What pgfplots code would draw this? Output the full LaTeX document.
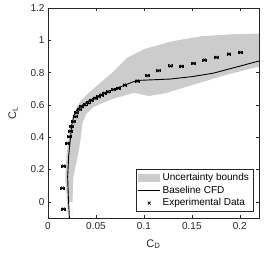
\documentclass[border=0pt]{standalone}
\usepackage{pgfplots}
\pgfplotsset{compat=1.18}
\usepackage{fontspec}
\setmainfont{Liberation Sans}
\definecolor{axgray}{RGB}{38,38,38}
\definecolor{bandgray}{RGB}{204,204,204}
\begin{document}
\begin{tikzpicture}
\begin{axis}[
  name=ax,
  scale only axis,
  width=211pt, height=210pt,
  xmin=0, xmax=0.22, ymin=-0.1, ymax=1.2,
  xtick={0,0.05,0.1,0.15,0.2},
  xticklabels={0,0.05,0.1,0.15,0.2},
  ytick={0,0.2,0.4,0.6,0.8,1,1.2},
  yticklabels={0,0.2,0.4,0.6,0.8,1,1.2},
  tick align=inside,
  tick pos=both,
  major tick length=3pt,
  axis line style={axgray, line width=0.5pt},
  tick style={axgray, line width=0.5pt},
  ticklabel style={font=\fontsize{10}{12}\selectfont, text=axgray},
  xticklabel style={yshift=-1pt},
  xlabel={C$_\mathrm{D}$}, ylabel={C$_\mathrm{L}$},
  label style={font=\fontsize{11}{13}\selectfont, text=axgray},
  xlabel style={yshift=-3pt},
  ylabel style={yshift=6pt},
  legend style={at={(rel axis cs:0.972,0.03)}, anchor=south east, draw=axgray, line width=0.5pt,
     font=\fontsize{10}{12}\selectfont, inner sep=2pt, row sep=0pt, cells={anchor=west}},
  legend cell align=left,
  clip=true,
]
% uncertainty band
\addplot[fill=bandgray, draw=none,
  legend image code/.code={\fill[bandgray] (0pt,-4pt) rectangle (22pt,4pt);}] coordinates {
 (0.0212,-0.12) (0.0195,0.03) (0.0180,0.155) (0.0195,0.30) (0.0229,0.444)
 (0.026,0.52) (0.030,0.59) (0.035,0.63) (0.042,0.672) (0.054,0.734)
 (0.068,0.805) (0.082,0.89) (0.10,0.945) (0.13,0.995) (0.16,1.025)
 (0.19,1.037) (0.225,1.043)
 (0.225,0.845) (0.185,0.785) (0.15,0.722) (0.122,0.672) (0.105,0.655)
 (0.09,0.675) (0.07,0.642) (0.058,0.615) (0.047,0.585) (0.040,0.545)
 (0.036,0.49) (0.034,0.39) (0.0316,0.30) (0.0264,0.155) (0.0257,0.031)
 (0.0257,-0.12)
} \closedcycle;
\addlegendentry{Uncertainty bounds}
% baseline CFD
\addplot[black, line width=0.9pt,
  legend image code/.code={\draw[black, line width=0.9pt] (0pt,0pt) -- (22pt,0pt);}] coordinates {
 (0.0225,-0.12) (0.0212,0.03) (0.0205,0.155) (0.0215,0.28) (0.0238,0.42)
 (0.0247,0.475) (0.0271,0.537) (0.0299,0.568) (0.0333,0.589) (0.0385,0.609)
 (0.0438,0.630) (0.0507,0.650) (0.0576,0.671) (0.0646,0.688) (0.0716,0.703)
 (0.0802,0.723) (0.0889,0.743) (0.095,0.752) (0.127,0.760) (0.15,0.775)
 (0.172,0.796) (0.20,0.84) (0.225,0.88)
};
\addlegendentry{Baseline CFD}
% experimental
\addplot[only marks, mark=x, mark size=2pt, black, line width=0.8pt,
  legend image code/.code={\draw[black, line width=0.8pt] plot[mark=x, mark size=2pt] coordinates {(11pt,0pt)};},
  error bars/.cd, x dir=both, x explicit, error bar style={line width=0.6pt},
  error mark options={rotate=90, mark size=1.5pt, line width=0.6pt}]
 coordinates {
 (0.0160,-0.045) +- (0.002,0)
 (0.0150,0.085) +- (0.002,0)
 (0.0163,0.221) +- (0.002,0)
 (0.0205,0.362) +- (0.002,0)
 (0.0219,0.403) +- (0.002,0)
 (0.0235,0.438) +- (0.002,0)
 (0.0247,0.465) +- (0.002,0)
 (0.0264,0.496) +- (0.002,0)
 (0.0281,0.527) +- (0.002,0)
 (0.0299,0.551) +- (0.002,0)
 (0.0323,0.572) +- (0.002,0)
 (0.0351,0.589) +- (0.002,0)
 (0.0385,0.600) +- (0.002,0)
 (0.0420,0.613) +- (0.002,0)
 (0.0455,0.626) +- (0.002,0)
 (0.0490,0.641) +- (0.002,0)
 (0.0524,0.651) +- (0.002,0)
 (0.0559,0.661) +- (0.002,0)
 (0.0590,0.672) +- (0.002,0)
 (0.0628,0.681) +- (0.002,0)
 (0.0680,0.695) +- (0.002,0)
 (0.0732,0.703) +- (0.002,0)
 (0.0800,0.723) +- (0.002,0)
 (0.0930,0.748) +- (0.002,0)
 (0.1034,0.781) +- (0.002,0)
 (0.1146,0.812) +- (0.002,0)
 (0.1278,0.841) +- (0.002,0)
 (0.1393,0.839) +- (0.002,0)
 (0.1514,0.857) +- (0.002,0)
 (0.1632,0.878) +- (0.002,0)
 (0.1753,0.894) +- (0.002,0)
 (0.1885,0.915) +- (0.002,0)
 (0.2007,0.925) +- (0.002,0)
};
\addlegendentry{Experimental Data}
\end{axis}
\pgfresetboundingbox
\path ([shift={(-48pt,-43pt)}]ax.south west) rectangle ([shift={(10pt,8pt)}]ax.north east);
\end{tikzpicture}
\end{document}
